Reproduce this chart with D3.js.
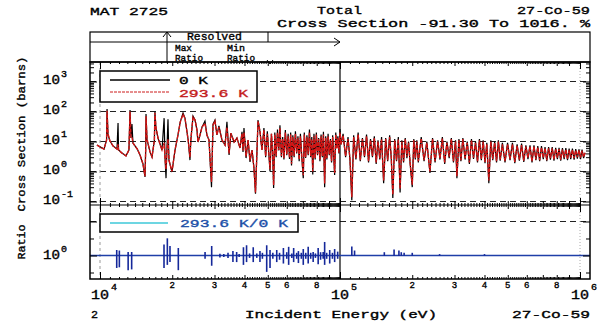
<!DOCTYPE html>
<html lang="en">
<head>
<meta charset="utf-8">
<title>MAT 2725 - Total Cross Section</title>
<script src="https://cdn.jsdelivr.net/npm/d3@7"></script>
<style>
  body { margin: 0; background: #fff; }
  text { font-family: "Liberation Mono", "DejaVu Sans Mono", monospace; fill: #000; }
  .bold { stroke: #000; stroke-width: 0.35px; }
  .grid { stroke: #222; stroke-width: 1.1; stroke-dasharray: 6,4; }
</style>
</head>
<body>
<svg id="chart" width="597" height="330"></svg>
<script>
// incident energy (keV) and total cross section (barns), 0 K and 293.6 K
var energyKeV = [
  9.71, 10.39, 10.65, 10.70, 10.80, 11.0, 11.33, 11.77, 11.89, 11.95,
  12.35, 12.83, 13.2, 13.34, 13.46, 13.59, 13.72, 14.3, 14.68, 15.10,
  15.40, 15.5, 15.55, 15.7, 16.16, 16.47, 16.85, 16.94, 17.1, 17.45,
  18.13, 18.5, 18.66, 18.84, 19.0, 19.2, 19.38, 19.95, 20.54, 21.13,
  21.6, 22.18, 22.6, 23.3, 23.71, 23.9, 24.41, 24.89, 25.36, 25.6,
  26.1, 26.61, 27.38, 27.9, 28.45, 29.15, 29.57, 30.13, 30.7, 31.3,
  32.24, 33.19, 33.8, 34.5, 35.1, 36.2, 37.2, 38.31, 39.06, 39.44,
  39.8, 40.6, 41.4, 42.17, 43.0, 43.8, 44.45, 45.1, 45.55, 46.42,
  47.3, 48.2, 49.0, 49.8, 50.5, 51.1, 51.8, 52.4, 52.9, 53.5,
  54.2, 54.9, 55.6, 56.2, 57.0, 57.7, 58.4, 59.2, 60.0, 60.8,
  61.6, 62.3, 62.8, 63.6, 64.4, 65.2, 66.0, 66.8, 67.6, 68.4,
  69.3, 70.3, 71.0, 71.9, 72.8, 73.7, 74.6, 75.5, 76.3, 77.0,
  77.9, 78.8, 79.7, 80.6, 81.5, 82.5, 83.4, 84.4, 85.3, 86.3,
  87.2, 88.2, 89.2, 90.2, 91.2, 92.2, 93.2, 94.2, 95.0, 96.0,
  97.0, 98.0, 99.0, 100, 101, 103, 105.5, 108, 110, 112,
  114, 116.5, 119, 121.5, 124, 126.5, 129, 131.5, 134, 136.5,
  139, 141.5, 144, 146.5, 149, 152, 155, 158, 161, 163.5,
  166, 169, 172, 175, 178, 181, 184, 187, 190, 193,
  196, 200, 203, 206, 209, 212, 218, 224, 230, 237,
  243, 249, 255, 261, 267, 273, 279, 285, 291, 297,
  303, 307, 313, 319, 325, 332, 339, 346, 353, 360,
  367, 374, 381, 388, 395, 402, 409, 417, 425, 433,
  441, 449, 457, 465, 475, 487, 499, 511, 523, 535,
  547, 559, 571, 583, 595, 607, 619, 631, 643, 655,
  667, 679, 691, 703, 715, 727, 740, 753, 766, 779,
  792, 805, 818, 831, 845, 859, 873, 887, 901, 915,
  930, 945, 960, 975, 990, 1005, 1020, 1035, 1050
];
var sigma0K = [
  7.6, 5.6, 11, 120, 16.5, 10.4, 7.1, 5.6, 41, 5.2,
  4.1, 3.3, 5.2, 112, 13, 38, 8.9, 5.6, 3.55, 1.78,
  0.66, 5.2, 82, 11.2, 4.5, 3.05, 11, 100, 28, 13,
  5.2, 60, 2.8, 0.6, 5.2, 55, 2.4, 0.96, 5.2, 16.5,
  45, 89, 60, 11.2, 2.4, 11, 70, 52, 24, 9.6,
  16.5, 30, 48, 16.5, 11.2, 0.3, 38, 52, 16.5, 33,
  11.2, 7.6, 45, 3.55, 19, 9.6, 13, 6.1, 21, 4.5,
  28, 2.8, 11.2, 2.1, 5.2, 1.3, 0.18, 5.2, 52, 21,
  5.2, 28, 3, 22, 4, 1.0, 18, 4, 0.28, 20,
  3, 25, 5, 35, 3, 14, 2.5, 24, 3.5, 18,
  2.6, 20, 1.6, 16, 3, 22, 4, 15, 2.2, 18,
  3, 0.6, 20, 2.8, 16, 3.5, 25, 3, 14, 0.8,
  18, 2.5, 20, 3.5, 13, 2.2, 17, 3, 21, 0.3,
  15, 2.5, 18, 3.5, 12, 2, 16, 3, 0.76, 20,
  6, 15, 4, 26, 8, 18, 3, 14, 2.5, 0.11,
  16, 2.5, 20, 2.2, 13, 3, 17, 2, 12, 3,
  15, 1.8, 11, 2.5, 14, 0.41, 13, 2.2, 16, 2.8,
  0.13, 12, 2.2, 14, 0.2, 11, 2, 13, 2.8, 10,
  1.8, 0.3, 12, 2.5, 11, 2, 14, 2.2, 10, 0.9,
  13, 2, 11, 2.5, 14, 1.8, 10, 2.8, 13, 2,
  11, 0.6, 12, 2.2, 13, 2.5, 10, 1.8, 12, 2.6,
  10, 2, 12, 2.4, 11, 1.9, 9, 0.41, 11, 2.4,
  10, 2, 11, 2.3, 9, 2, 9, 2.4, 9, 1.9,
  8, 2.3, 8.5, 2.1, 7.5, 2.6, 7.5, 2, 7.5, 2.4,
  7, 2.2, 7, 2.6, 6.5, 2.2, 6.5, 2.5, 6.5, 2.3,
  6.2, 2.6, 6.2, 2.3, 6, 2.6, 6, 2.4, 5.8, 2.6,
  5.8, 2.5, 5.6, 2.7, 5.5, 2.6, 5.4, 2.8, 4.2
];
var sigma293K = [
  7.6, 5.6, 11, 105, 18, 10.4, 7.1, 5.6, 8, 5.2,
  4.1, 3.3, 5.2, 100, 14, 14, 8.9, 5.6, 3.55, 1.8,
  0.7, 5.2, 70, 12, 4.5, 3.05, 11, 90, 30, 13,
  5.2, 9, 2.8, 1.2, 5.2, 12, 2.4, 1.0, 5.2, 16.5,
  45, 80, 60, 11.2, 3, 11, 65, 52, 24, 9.6,
  16.5, 30, 40, 16.5, 11.2, 0.45, 35, 48, 16.5, 30,
  11.2, 7.6, 30, 4, 19, 9.6, 13, 6.1, 18, 5,
  20, 3.2, 11.2, 2.4, 5.2, 1.3, 0.2, 5.2, 48, 21,
  5.2, 24, 3.3, 18, 4.3, 1.2, 18, 4.3, 0.35, 17,
  3.3, 20, 5.2, 28, 3.3, 12, 2.8, 20, 3.8, 15,
  2.9, 17, 1.8, 14, 3.3, 18, 4.3, 13, 2.5, 15,
  3.3, 0.75, 17, 3, 14, 3.8, 20, 3.3, 12, 1.0,
  15, 2.8, 17, 3.8, 12, 2.5, 15, 3.3, 17, 0.4,
  13, 2.8, 15, 3.8, 11, 2.2, 14, 3.3, 0.9, 17,
  6, 13, 4.2, 20, 8, 16, 3.3, 12, 2.8, 0.14,
  14, 2.8, 17, 2.4, 12, 3.3, 15, 2.2, 11, 3.3,
  13, 2, 10, 2.8, 12, 0.5, 12, 2.4, 14, 3.1,
  0.17, 11, 2.4, 12, 0.26, 10, 2.2, 12, 3.1, 9,
  2, 0.36, 11, 2.8, 10, 2.2, 12.5, 2.4, 9, 1.0,
  12, 2.2, 10, 2.8, 12.5, 2, 9, 3.1, 12, 2.2,
  10, 0.7, 11, 2.4, 12, 2.8, 9, 2, 11, 2.9,
  9, 2.2, 11, 2.6, 10, 2.1, 8, 0.5, 10, 2.6,
  9, 2.2, 10, 2.5, 8, 2.2, 8, 2.6, 8, 2.1,
  7.2, 2.5, 7.6, 2.3, 6.8, 2.9, 6.8, 2.2, 6.8, 2.6,
  6.3, 2.4, 6.3, 2.9, 5.9, 2.4, 5.9, 2.8, 5.9, 2.5,
  5.6, 2.9, 5.6, 2.5, 5.4, 2.9, 5.4, 2.6, 5.2, 2.9,
  5.2, 2.8, 5, 3, 5, 2.9, 4.9, 3.1, 4.2
];

// ratio 293.6 K / 0 K: excursions (max, min) around 1 at each resonance
var ratioKeV = [
  11.74, 12.04, 13.1, 13.55, 18.48, 19.08, 19.57, 21.2, 27.4, 29.2,
  31.6, 32.8, 34.15, 35.8, 37.1, 38.0, 39.6, 40.8, 42.0, 43.5,
  45.0, 46.4, 47.5, 49.5, 51.1, 52.5, 54.5, 56.0, 58.1, 60.0,
  61.1, 63.0, 64.1, 66.0, 67.1, 69.0, 70.3, 72.0, 73.7, 75.5,
  77.3, 79.0, 81.1, 83.0, 85.1, 86.3, 88.0, 90.6, 93.0, 95.0,
  97.8, 112, 115, 153, 168, 176, 180, 185, 200, 260, 400
];
var ratioMax = [
  1.45, 1.4, 1.27, 1.27, 2.1, 3.2, 1.9, 1.66, 1.27, 1.9,
  1.13, 1.1, 1.2, 1.35, 1.27, 1.1, 1.75, 2.0, 1.15, 1.75,
  1.15, 1.35, 1.2, 2.0, 1.45, 1.2, 1.45, 1.2, 1.66, 1.25,
  1.8, 1.15, 1.66, 1.2, 1.35, 1.2, 1.55, 1.2, 1.8, 1.2,
  1.27, 1.15, 1.66, 1.25, 1.27, 2.5, 1.2, 1.45, 1.2, 1.55,
  1.3, 1.85, 1.4, 1.25, 1.5, 1.4, 1.25, 1.2, 1.2, 1.1, 1.1
];
var ratioMin = [
  0.43, 0.45, 0.37, 0.39, 0.43, 0.53, 0.64, 0.37, 0.8, 0.5,
  0.88, 0.9, 0.85, 0.64, 0.64, 0.9, 0.53, 0.64, 0.85, 0.64,
  0.85, 0.64, 0.8, 0.33, 0.43, 0.8, 0.64, 0.75, 0.58, 0.8,
  0.53, 0.85, 0.64, 0.8, 0.6, 0.8, 0.53, 0.8, 0.58, 0.8,
  0.64, 0.85, 0.55, 0.75, 0.8, 0.53, 0.8, 0.58, 0.8, 0.64,
  0.8, 0.96, 0.97, 0.97, 0.97, 0.97, 0.98, 0.98, 0.98, 0.99, 0.99
];

var crossTicks = [0.1, 1, 10, 100, 1000];
var crossExp = ["-1", "0", "1", "2", "3"];
var energyDecades = [1e4, 1e5, 1e6];
var energyExp = ["4", "5", "6"];
var minorLabels = [2, 3, 4, 5, 6, 8];

var svg = d3.select("#chart");
var L = 90, R = 590, T = 62, M = 205, B = 279;

var x = d3.scaleLog()
    .domain([Math.pow(10, 4 - 10 / 240), Math.pow(10, 6 + 10 / 240)])
    .range([L, R]);
var y = d3.scaleLog()
    .domain([Math.pow(10, -1.117), Math.pow(10, 3.65)])
    .range([M, T]);
var yr = d3.scaleLog()
    .domain([Math.pow(10, -0.691), Math.pow(10, 1.485)])
    .range([B, M]);

var defs = svg.append("defs");
defs.append("clipPath").attr("id", "clipUp")
    .append("rect").attr("x", L).attr("y", T).attr("width", R - L).attr("height", M - T);
defs.append("clipPath").attr("id", "clipLow")
    .append("rect").attr("x", L).attr("y", M).attr("width", R - L).attr("height", B - M);

// grid lines
svg.append("g").selectAll("line").data(crossTicks).enter().append("line")
    .attr("class", "grid")
    .attr("x1", L).attr("x2", R)
    .attr("y1", function (d) { return y(d); })
    .attr("y2", function (d) { return y(d); });
svg.append("line").attr("class", "grid")
    .attr("x1", L).attr("x2", R).attr("y1", yr(10)).attr("y2", yr(10));

svg.append("line")
    .attr("x1", x(1e4)).attr("x2", x(1e4)).attr("y1", T).attr("y2", B)
    .attr("stroke", "#999").attr("stroke-dasharray", "3,3");
svg.append("line")
    .attr("x1", x(1e6)).attr("x2", x(1e6)).attr("y1", T).attr("y2", B)
    .attr("stroke", "#aaa").attr("stroke-dasharray", "1,2");
svg.append("line")
    .attr("x1", x(1e5)).attr("x2", x(1e5)).attr("y1", T).attr("y2", B)
    .attr("stroke", "#000").attr("stroke-width", 1.2);

// cross section curves
var rows = energyKeV.map(function (e, i) {
    return { e: e * 1000, s0: sigma0K[i], s1: sigma293K[i] };
});
var line0 = d3.line().x(function (d) { return x(d.e); }).y(function (d) { return y(d.s0); });
var line1 = d3.line().x(function (d) { return x(d.e); }).y(function (d) { return y(d.s1); });

var up = svg.append("g").attr("clip-path", "url(#clipUp)");
up.append("path").datum(rows).attr("d", line0)
    .attr("fill", "none").attr("stroke", "#000").attr("stroke-width", 1.2);
up.append("path").datum(rows).attr("d", line1)
    .attr("fill", "none").attr("stroke", "#d41414").attr("stroke-width", 1.4)
    .attr("stroke-dasharray", "4,1");

// ratio panel
var low = svg.append("g").attr("clip-path", "url(#clipLow)");
low.append("line")
    .attr("x1", L).attr("x2", R).attr("y1", yr(1)).attr("y2", yr(1))
    .attr("stroke", "#1f3fa8").attr("stroke-width", 1.5);
low.selectAll(".spike").data(ratioKeV).enter().append("line")
    .attr("class", "spike")
    .attr("x1", function (d) { return x(d * 1000); })
    .attr("x2", function (d) { return x(d * 1000); })
    .attr("y1", function (d, i) { return yr(ratioMax[i]); })
    .attr("y2", function (d, i) { return yr(ratioMin[i]); })
    .attr("stroke", "#15289a").attr("stroke-width", 1.6);

// frames
svg.append("rect").attr("x", L).attr("y", T).attr("width", R - L).attr("height", B - T)
    .attr("fill", "none").attr("stroke", "#000").attr("stroke-width", 1.5);
svg.append("line").attr("x1", L).attr("x2", R).attr("y1", M).attr("y2", M)
    .attr("stroke", "#000").attr("stroke-width", 1.2);

// ticks
var xMajor = energyDecades, xMinor = [], xMicro = [];
[1e4, 1e5].forEach(function (k) {
    for (var m = 2; m <= 9; m++) xMinor.push(m * k);
    for (var t = 11; t < 100; t++) if (t % 10 !== 0) xMicro.push(t / 10 * k);
});
function xTicks(pos, axisFn) {
    [[xMajor, 7], [xMinor, 4], [xMicro, 2]].forEach(function (p) {
        svg.append("g").attr("transform", "translate(0," + pos + ")")
            .call(axisFn(x).tickValues(p[0]).tickSize(p[1]).tickFormat(""))
            .call(function (g) { g.select(".domain").remove(); });
    });
}
xTicks(T, d3.axisBottom);
xTicks(M, d3.axisBottom);
xTicks(M, d3.axisTop);
xTicks(B, d3.axisTop);

var yMinor = [];
[0.1, 1, 10, 100, 1000].forEach(function (k) {
    for (var m = 2; m <= 9; m++) if (m * k < 4400) yMinor.push(m * k);
});
function yTicks(scale, major, minor, pos, axisFn) {
    [[major, 7], [minor, 4]].forEach(function (p) {
        svg.append("g").attr("transform", "translate(" + pos + ",0)")
            .call(axisFn(scale).tickValues(p[0]).tickSize(p[1]).tickFormat(""))
            .call(function (g) { g.select(".domain").remove(); });
    });
}
yTicks(y, crossTicks, yMinor, L, d3.axisRight);
yTicks(y, crossTicks, yMinor, R, d3.axisLeft);
yTicks(yr, [1, 10], [Math.pow(10, -0.5), Math.pow(10, 0.5)], L, d3.axisRight);
yTicks(yr, [1, 10], [Math.pow(10, -0.5), Math.pow(10, 0.5)], R, d3.axisLeft);

// legends
var lg = svg.append("g");
lg.append("rect").attr("x", 100).attr("y", 71).attr("width", 157).attr("height", 31)
    .attr("fill", "#fff").attr("stroke", "#000").attr("stroke-width", 1.5);
lg.append("line").attr("x1", 110).attr("x2", 170).attr("y1", 80).attr("y2", 80)
    .attr("stroke", "#000").attr("stroke-width", 1.6);
lg.append("line").attr("x1", 110).attr("x2", 170).attr("y1", 92).attr("y2", 92)
    .attr("stroke", "#cc1a1a").attr("stroke-width", 1).attr("stroke-dasharray", "3,1");
lg.append("text").attr("class", "bold").attr("x", 179).attr("y", 84)
    .attr("font-size", 11).attr("textLength", 29).attr("lengthAdjust", "spacingAndGlyphs")
    .text("0 K");
lg.append("text").attr("x", 179).attr("y", 97).attr("font-size", 11)
    .attr("textLength", 69).attr("lengthAdjust", "spacingAndGlyphs")
    .style("fill", "#c41c1c").style("stroke", "#c41c1c")
    .style("stroke-width", "0.35px").text("293.6 K");

lg.append("rect").attr("x", 100).attr("y", 214).attr("width", 198).attr("height", 18)
    .attr("fill", "#fff").attr("stroke", "#000").attr("stroke-width", 1.5);
lg.append("line").attr("x1", 110).attr("x2", 168).attr("y1", 223).attr("y2", 223)
    .attr("stroke", "#3cc8d8").attr("stroke-width", 1.5);
lg.append("text").attr("x", 180).attr("y", 227).attr("font-size", 11)
    .attr("textLength", 108).attr("lengthAdjust", "spacingAndGlyphs")
    .style("fill", "#2050a8").style("stroke", "#2050a8")
    .style("stroke-width", "0.35px").text("293.6 K/0 K");

// header box
var hb = svg.append("g").attr("stroke", "#000").attr("fill", "none");
hb.append("rect").attr("x", L).attr("y", 32).attr("width", R - L).attr("height", T - 32)
    .attr("stroke-width", 1.2);
hb.append("line").attr("x1", L).attr("x2", x(1e5)).attr("y1", 42).attr("y2", 42);
hb.append("path").attr("d", "M" + (x(1e5) - 6) + ",38L" + x(1e5) + ",42L" + (x(1e5) - 6) + ",46");
hb.append("line").attr("x1", 167).attr("x2", 167).attr("y1", 32).attr("y2", T);
hb.append("path").attr("d", "M163,37L167,32L171,37");
hb.append("line").attr("x1", 268).attr("x2", 268).attr("y1", 32).attr("y2", 42);
hb.append("path").attr("d", "M267,60L270,64L273,60");

function txt(s, xp, yp, size, len, anchor) {
    var t = svg.append("text").attr("class", "bold").attr("x", xp).attr("y", yp)
        .attr("font-size", size).text(s);
    if (len) t.attr("textLength", len).attr("lengthAdjust", "spacingAndGlyphs");
    if (anchor) t.attr("text-anchor", anchor);
    return t;
}
txt("Resolved", 187, 40, 10, 55);
txt("Max", 175, 51, 9, 17);
txt("Ratio", 175, 61, 9, 28);
txt("Min", 227, 51, 9, 18);
txt("Ratio", 227, 61, 9, 28);

// titles
txt("MAT 2725", 90, 15, 11, 78);
txt("Total", 317, 14, 11, 45);
txt("27-Co-59", 517, 14, 11, 73);
txt("Cross Section  -91.30 To 1016. %", 277, 27, 11, 313);
txt("2", 91, 318, 11, 7);
txt("Incident Energy (eV)", 245, 318, 11, 192);
txt("27-Co-59", 512, 318, 11, 78);

svg.append("text").attr("class", "bold")
    .attr("transform", "translate(25,134) rotate(-90)")
    .attr("text-anchor", "middle").attr("font-size", 11)
    .attr("textLength", 155).attr("lengthAdjust", "spacingAndGlyphs")
    .text("Cross Section (barns)");
svg.append("text").attr("class", "bold")
    .attr("transform", "translate(25,242) rotate(-90)")
    .attr("text-anchor", "middle").attr("font-size", 11)
    .attr("textLength", 35).attr("lengthAdjust", "spacingAndGlyphs")
    .text("Ratio");

// y tick labels
crossTicks.forEach(function (v, i) {
    txt("10", 43, y(v) + 3, 12, 17);
    txt(crossExp[i], 61, y(v) - 4, 9, crossExp[i].length * 6);
});
txt("10", 43, yr(1) + 3, 12, 17);
txt("0", 61, yr(1) - 4, 9, 6);

// x tick labels
energyDecades.forEach(function (v, i) {
    txt("10", x(v) - 9, 299, 12, 18);
    txt(energyExp[i], x(v) + 11, 290, 9, 6);
});
[1e4, 1e5].forEach(function (k) {
    minorLabels.forEach(function (m) {
        txt(String(m), x(m * k), 288, 9, 0, "middle");
    });
});
</script>
</body>
</html>
